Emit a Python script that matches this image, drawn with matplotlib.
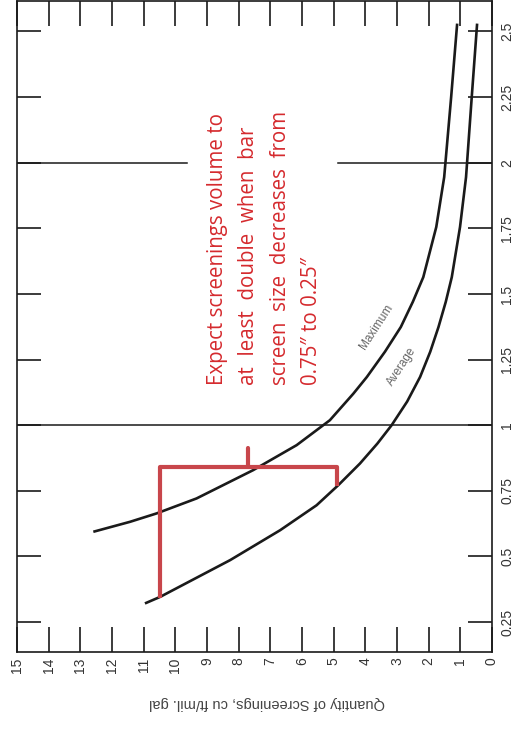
"""
Screenings quantity vs. bar screen size, drawn rotated 90 degrees
to match the scanned reference figure.
"""

import matplotlib
matplotlib.use("Agg")
import matplotlib.pyplot as plt

# ---------------------------------------------------------------------------
# Data: screen size in inches, quantity cu ft/mil gal
# ---------------------------------------------------------------------------
max_size = [0.594, 0.632, 0.664, 0.721, 0.829, 0.924, 1.019, 1.12, 1.184,
            1.28, 1.374, 1.47, 1.564, 1.755, 1.945, 2.25, 2.53]
max_qty = [12.59, 11.43, 10.59, 9.33, 7.54, 6.17, 5.12, 4.38, 3.95,
           3.38, 2.88, 2.5, 2.17, 1.76, 1.51, 1.29, 1.1]

avg_size = [0.321, 0.346, 0.486, 0.600, 0.695, 0.772, 0.854, 0.93, 1.0, 1.09,
            1.184, 1.28, 1.374, 1.47, 1.564, 1.755, 1.945, 2.25, 2.53]
avg_qty = [10.96, 10.48, 8.27, 6.69, 5.54, 4.85, 4.17, 3.62, 3.17, 2.68,
           2.27, 1.95, 1.69, 1.46, 1.27, 1.01, 0.82, 0.64, 0.47]

qty_ticks = list(range(0, 16))
size_ticks = [0.25, 0.5, 0.75, 1, 1.25, 1.5, 1.75, 2, 2.25, 2.5]
size_labels = ["0.25", "0.5", "0.75", "1", "1.25", "1.5", "1.75", "2", "2.25", "2.5"]

note_lines = [
    "Expect screenings volume to",
    "at  least  double  when  bar",
    "screen  size  decreases  from",
    "0.75\u2033 to 0.25\u2033",
]

INK = "#1a1a1a"
RED_TEXT = "#d52a2e"
RED_BRACKET = "#c8464b"
W, H = 517, 729

fig = plt.figure(figsize=(W / 100, H / 100), dpi=100)
ax = fig.add_axes([17 / W, (H - 652) / H, (492 - 17) / W, 651.5 / H])

ax.set_xlim(15, 0)
ax.set_ylim(0.136, 2.618)

# ---- curves ------------------------------------------------------------
ax.plot(max_qty, max_size, color=INK, lw=1.9, solid_capstyle="butt",
        solid_joinstyle="round")
ax.plot(avg_qty, avg_size, color=INK, lw=1.9, solid_capstyle="butt",
        solid_joinstyle="round")

# ---- grid lines at 1 in and 2 in (the 2 in one is broken by the note) ----
ax.plot([15, 0], [1, 1], color=INK, lw=1.1)
ax.plot([15, 9.63], [2, 2], color=INK, lw=1.1)
ax.plot([4.85, 0], [2, 2], color=INK, lw=1.1)

# ---- ticks & labels -----------------------------------------------------
ax.set_xticks(qty_ticks)
ax.set_xticklabels([str(q) for q in qty_ticks], rotation=90, color="#333",
                   family="Liberation Sans", fontsize=10)
ax.set_yticks(size_ticks)
ax.set_yticklabels(size_labels, rotation=90, va="center", color="#333",
                   family="Liberation Sans", fontsize=10)
ax.tick_params(axis="x", direction="in", length=18, width=1.2, color=INK,
               top=True, bottom=True, pad=4)
ax.tick_params(axis="y", direction="in", length=17, width=1.2, color=INK,
               left=True, right=True, labelleft=False, labelright=True, pad=6)
for sp in ax.spines.values():
    sp.set_color(INK)
    sp.set_linewidth(1.2)

ax.text(0.526, -0.078, "Quantity of Screenings, cu ft/mil. gal",
        transform=ax.transAxes, rotation=180, ha="center", va="center",
        family="Liberation Sans", fontsize=10.5, color="#444")

# ---- curve labels -------------------------------------------------------
ax.text(3.64, 1.374, "Maximum", rotation=57, ha="center", va="center",
        family="Liberation Sans", fontsize=8.5, color="#666")
ax.text(2.85, 1.222, "Average", rotation=57, ha="center", va="center",
        family="Liberation Sans", fontsize=8.5, color="#666")

# ---- red bracket + note -------------------------------------------------
ax.plot([10.5, 10.5, 4.9, 4.9], [0.34, 0.84, 0.84, 0.77], color=RED_BRACKET,
        lw=3.0, solid_joinstyle="round", solid_capstyle="butt")
ax.plot([7.7, 7.7], [0.84, 0.915], color=RED_BRACKET, lw=3.0,
        solid_capstyle="round")

note_x = [8.68, 7.70, 6.69, 5.71]
for qx, line in zip(note_x, note_lines):
    ax.text(qx, 1.152, line, rotation=90, ha="center", va="bottom",
            family="Open Sans", fontsize=14.8, color=RED_TEXT)

fig.savefig("out.png", dpi=100)
